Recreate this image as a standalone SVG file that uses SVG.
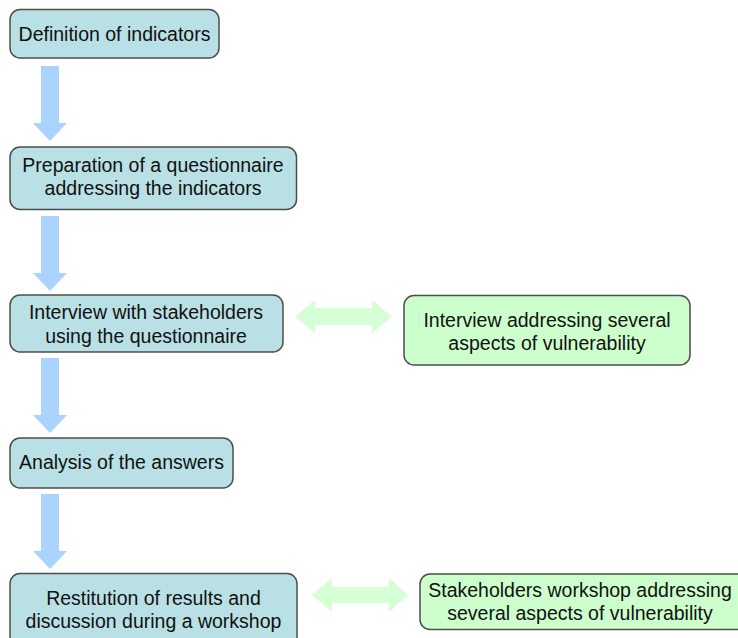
<svg xmlns="http://www.w3.org/2000/svg" width="738" height="638" viewBox="0 0 738 638">
<defs>
<style>
.blue rect{fill:#B9E0E4;stroke:#4d4d4d;stroke-width:1.5}
.green rect{fill:#CCFFCC;stroke:#4d4d4d;stroke-width:1.5}
text{font-family:"Liberation Sans",Arial,sans-serif;font-size:19.5px;fill:#111;text-anchor:middle}
.down{fill:#AAD4FF}
.both{fill:#D6FFD6}
</style>
<path id="dn" d="M41,0 H59 V57 H67 L50,75 L33,57 H41 Z"/>
</defs>
<rect width="738" height="638" fill="#fff"/>
<g id="connectors">
<use href="#dn" class="down" y="66"/>
<use href="#dn" class="down" y="216"/>
<use href="#dn" class="down" y="358"/>
<use href="#dn" class="down" y="494"/>
<path class="both" d="M295,316.5 L315,300 V308 H372 V300 L392,316.5 L372,333 V325 H315 V333 Z"/>
<path class="both" d="M312,595 L332,578 V587 H389 V578 L408,595 L389,612 V603 H332 V612 Z"/>
</g>
<g id="n1" class="blue"><rect x="10" y="9.5" width="209" height="48.5" rx="10"/><text x="114.5" y="41">Definition of indicators</text></g>
<g id="n2" class="blue"><rect x="10" y="147" width="286.5" height="62.5" rx="10"/><text x="153" y="172">Preparation of a questionnaire</text><text x="153" y="195">addressing the indicators</text></g>
<g id="n3" class="blue"><rect x="10" y="295" width="273" height="57" rx="10"/><text x="146" y="319">Interview with stakeholders</text><text x="146" y="343">using the questionnaire</text></g>
<g id="n4" class="green"><rect x="404" y="295.5" width="286" height="69.5" rx="10"/><text x="547" y="327">Interview addressing several</text><text x="547" y="350">aspects of vulnerability</text></g>
<g id="n5" class="blue"><rect x="10" y="438" width="223" height="50" rx="10"/><text x="121.5" y="469">Analysis of the answers</text></g>
<g id="n6" class="blue"><rect x="10" y="573.5" width="287" height="75" rx="10"/><text x="153.5" y="605">Restitution of results and</text><text x="153.5" y="628">discussion during a workshop</text></g>
<g id="n7" class="green"><rect x="420" y="574" width="330" height="55.5" rx="10"/><text x="580" y="597">Stakeholders workshop addressing</text><text x="580" y="620">several aspects of vulnerability</text></g>
</svg>
